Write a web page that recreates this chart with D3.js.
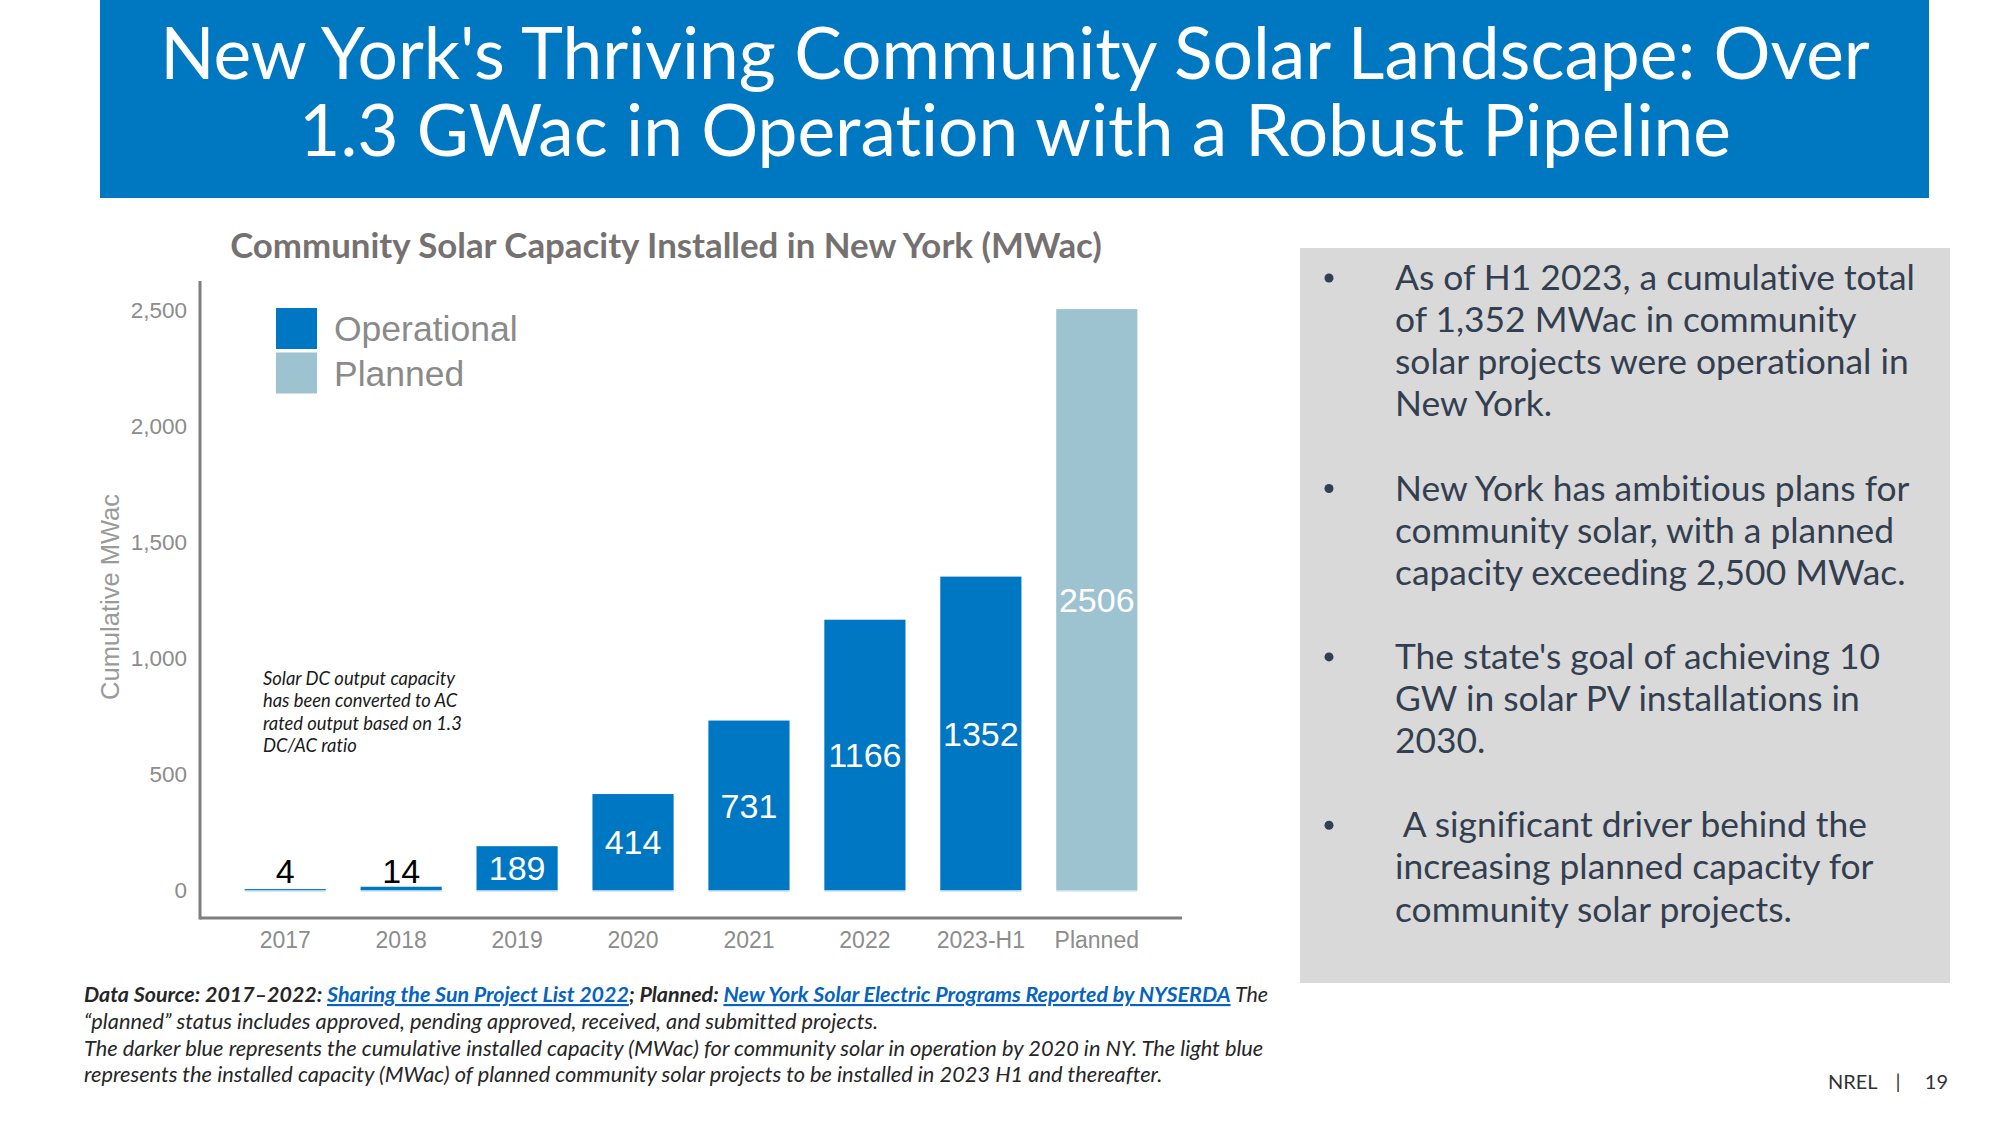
<!DOCTYPE html>
<html>
<head>
<meta charset="utf-8">
<script src="https://cdn.jsdelivr.net/npm/d3@7"></script>
<style>
  html, body { margin: 0; padding: 0; background: #ffffff; }
  svg { display: block; }
  text { font-variant-ligatures: none; font-feature-settings: "liga" 0; }
</style>
</head>
<body>
<svg id="chart" width="2000" height="1125"></svg>
<script>
// ---------------- DATA ----------------
const categories = ["2017", "2018", "2019", "2020", "2021", "2022", "2023-H1", "Planned"];
const values = [4, 14, 189, 414, 731, 1166, 1352, 2506];
const status = ["Operational", "Operational", "Operational", "Operational", "Operational", "Operational", "Operational", "Planned"];
const yTicks = [0, 500, 1000, 1500, 2000, 2500];
const legendLabels = ["Operational", "Planned"];

const titleLines = [
  "New York's Thriving Community Solar Landscape: Over",
  "1.3 GWac in Operation with a Robust Pipeline"
];
const chartTitle = "Community Solar Capacity Installed in New York (MWac)";
const yAxisTitle = "Cumulative MWac";
const noteLines = [
  "Solar DC output capacity",
  "has been converted to AC",
  "rated output based on 1.3",
  "DC/AC ratio"
];
const bullets = [
  ["As of H1 2023, a cumulative total", "of 1,352 MWac in community", "solar projects were operational in", "New York."],
  ["New York has ambitious plans for", "community solar, with a planned", "capacity exceeding 2,500 MWac."],
  ["The state's goal of achieving 10", "GW in solar PV installations in", "2030."],
  ["\u00a0A significant driver behind the", "increasing planned capacity for", "community solar projects."]
];
const footerLine1 = [
  {t: "Data Source: 2017\u20132022: ", kind: "bold"},
  {t: "Sharing the Sun Project List 2022", kind: "link"},
  {t: "; Planned: ", kind: "bold"},
  {t: "New York Solar Electric Programs Reported by NYSERDA", kind: "link"},
  {t: " The", kind: "plain"}
];
const footerLines = [
  "\u201cplanned\u201d status includes approved, pending approved, received, and submitted projects.",
  "The darker blue represents the cumulative installed capacity (MWac) for community solar in operation by 2020 in NY. The light blue",
  "represents the installed capacity (MWac) of planned community solar projects to be installed in 2023 H1 and thereafter."
];
const pageParts = ["NREL", "|", "19"];

// ---------------- STYLE ----------------
const C = {
  banner: "#0078C1",
  op: "#0077C2",
  planned: "#9DC3D1",
  axis: "#7f7f7f",
  tick: "#8c8c8c",
  chartTitle: "#767171",
  panel: "#D9D9D9",
  panelText: "#333F50",
  footer: "#262626",
  link: "#0563C1"
};
const SANS = "'Liberation Sans', Arial, sans-serif";
const HUM = "Lato, 'Open Sans', sans-serif";

const svg = d3.select("#chart");

function fitWidth(sel, target) {
  const node = sel.node();
  const fs = parseFloat(sel.style("font-size"));
  const w = node.getComputedTextLength();
  const nfs = fs * target / w;
  sel.style("font-size", nfs + "px");
  return nfs;
}

// ---------------- BANNER ----------------
svg.append("rect").attr("x", 100).attr("y", 0).attr("width", 1829).attr("height", 198).attr("fill", C.banner);
const t1 = svg.append("text").attr("x", 1015).attr("y", 79).attr("text-anchor", "middle")
  .attr("fill", "#fff").style("font-family", HUM).style("font-size", "70px").text(titleLines[0]);
const tfs = fitWidth(t1, 1710);
svg.append("text").attr("x", 1015).attr("y", 156).attr("text-anchor", "middle")
  .attr("fill", "#fff").style("font-family", HUM).style("font-size", tfs + "px").text(titleLines[1]);

// ---------------- CHART ----------------
const frame = {left: 200, right: 1182, top: 281, bottom: 918};
const x = d3.scaleBand().domain(categories).range([frame.left, frame.right])
  .paddingInner(0.3).paddingOuter(0.385);
const y = d3.scaleLinear().domain([0, 2500]).range([890, 310.5]);

// chart title
const ct = svg.append("text").attr("x", 666).attr("y", 258).attr("text-anchor", "middle")
  .attr("fill", C.chartTitle).style("font-family", HUM).style("font-weight", "700")
  .style("font-size", "32px").text(chartTitle);
fitWidth(ct, 872);

// bars
const data = categories.map((c, i) => ({c, v: values[i], s: status[i]}));
svg.append("g").selectAll("rect").data(data).join("rect")
  .attr("x", d => x(d.c))
  .attr("width", x.bandwidth())
  .attr("y", d => y(d.v))
  .attr("height", d => y(0) - y(d.v))
  .attr("fill", d => d.s === "Planned" ? C.planned : C.op);
// light base edge under each bar (as in the source rendering)
svg.append("g").selectAll("rect").data(data).join("rect")
  .attr("x", d => x(d.c))
  .attr("width", x.bandwidth())
  .attr("y", y(0))
  .attr("height", 1.5)
  .attr("fill", d => d.s === "Planned" ? "#c9dee6" : "#a9d1ec");

// value labels
svg.append("g").selectAll("text").data(data).join("text")
  .attr("x", d => x(d.c) + x.bandwidth() / 2)
  .attr("y", d => d.v < 100 ? y(0) - 7 : (y(d.v) + y(0)) / 2)
  .attr("dy", d => d.v < 100 ? 0 : "0.36em")
  .attr("text-anchor", "middle")
  .attr("fill", d => d.v < 100 ? "#000" : "#fff")
  .style("font-family", SANS).style("font-size", "34px")
  .text(d => d.v);

// y axis
const yAxis = svg.append("g").attr("transform", `translate(${frame.left},0)`)
  .call(d3.axisLeft(y).tickValues(yTicks).tickSize(0).tickPadding(13).tickFormat(d3.format(",")));
yAxis.select(".domain").remove();
yAxis.selectAll("text").attr("fill", C.tick).style("font-family", SANS).style("font-size", "22.5px");

// x axis
const xAxis = svg.append("g").attr("transform", `translate(0,${frame.bottom})`)
  .call(d3.axisBottom(x).tickSize(0).tickPadding(14));
xAxis.select(".domain").remove();
xAxis.selectAll("text").attr("fill", C.tick).style("font-family", SANS).style("font-size", "23px");

// axis lines
svg.append("line").attr("x1", frame.left).attr("x2", frame.left).attr("y1", frame.top).attr("y2", frame.bottom + 1.5)
  .attr("stroke", C.axis).attr("stroke-width", 3);
svg.append("line").attr("x1", frame.left).attr("x2", frame.right).attr("y1", frame.bottom).attr("y2", frame.bottom)
  .attr("stroke", C.axis).attr("stroke-width", 3);

// y axis title
svg.append("text").attr("transform", "translate(119,597) rotate(-90)").attr("text-anchor", "middle")
  .attr("fill", "#9a9a9a").style("font-family", SANS).style("font-size", "25.5px").text(yAxisTitle);

// legend
const legend = svg.append("g").attr("transform", "translate(276,308)");
legendLabels.forEach((lab, i) => {
  legend.append("rect").attr("x", 0).attr("y", i * 44.5).attr("width", 41).attr("height", 41)
    .attr("fill", i === 0 ? C.op : C.planned);
  legend.append("text").attr("x", 58).attr("y", 33 + i * 44.5).attr("fill", "#8a8a8a")
    .style("font-family", SANS).style("font-size", "35.5px").text(lab);
});

// note
const noteG = svg.append("g");
let noteFs = 17;
noteLines.forEach((ln, i) => {
  const t = noteG.append("text").attr("x", 263).attr("y", 685 + i * 22.3).attr("fill", "#1a1a1a")
    .style("font-family", HUM).style("font-style", "italic").style("font-size", noteFs + "px").text(ln);
  if (i === 2) { noteFs = fitWidth(t, 199); }
});
noteG.selectAll("text").style("font-size", noteFs + "px");

// ---------------- RIGHT PANEL ----------------
svg.append("rect").attr("x", 1300).attr("y", 248).attr("width", 650).attr("height", 735).attr("fill", C.panel);
const panelG = svg.append("g");
const lineH = 42.1;
let lineIdx = 0;
const panelTexts = [];
bullets.forEach((b, bi) => {
  panelG.append("circle").attr("cx", 1329).attr("cy", 290 + lineIdx * lineH - 12).attr("r", 4.5).attr("fill", C.panelText);
  b.forEach(ln => {
    const t = panelG.append("text").attr("x", 1395).attr("y", 290 + lineIdx * lineH)
      .attr("fill", C.panelText).style("font-family", HUM).style("font-size", "33px").text(ln);
    panelTexts.push(t);
    lineIdx++;
  });
  lineIdx++;
});
const pfs = fitWidth(panelTexts[0], 520);
panelTexts.forEach(t => t.style("font-size", pfs + "px"));

// ---------------- FOOTER ----------------
const f1 = svg.append("text").attr("x", 84).attr("y", 1002).attr("fill", C.footer)
  .style("font-family", HUM).style("font-style", "italic").style("font-size", "19px");
footerLine1.forEach(p => {
  const ts = f1.append("tspan").text(p.t);
  if (p.kind === "bold") ts.style("font-weight", "700");
  if (p.kind === "link") ts.style("font-weight", "700").attr("fill", C.link).style("text-decoration", "underline");
});
const fls = [];
footerLines.forEach((ln, i) => {
  fls.push(svg.append("text").attr("x", 84).attr("y", 1029 + i * 26.7).attr("fill", C.footer)
    .style("font-family", HUM).style("font-style", "italic").style("font-size", "19px").text(ln));
});
const ffs = fitWidth(fls[1], 1180);
fls.forEach(t => t.style("font-size", ffs + "px"));
fitWidth(f1, 1185);

// page label
const pg = svg.append("g").attr("fill", "#333").style("font-family", HUM).style("font-size", "20px");
pg.append("text").attr("x", 1828).attr("y", 1089).text(pageParts[0]);
pg.append("text").attr("x", 1898).attr("y", 1089).attr("text-anchor", "middle").text(pageParts[1]);
pg.append("text").attr("x", 1948).attr("y", 1089).attr("text-anchor", "end").text(pageParts[2]);
</script>
</body>
</html>
